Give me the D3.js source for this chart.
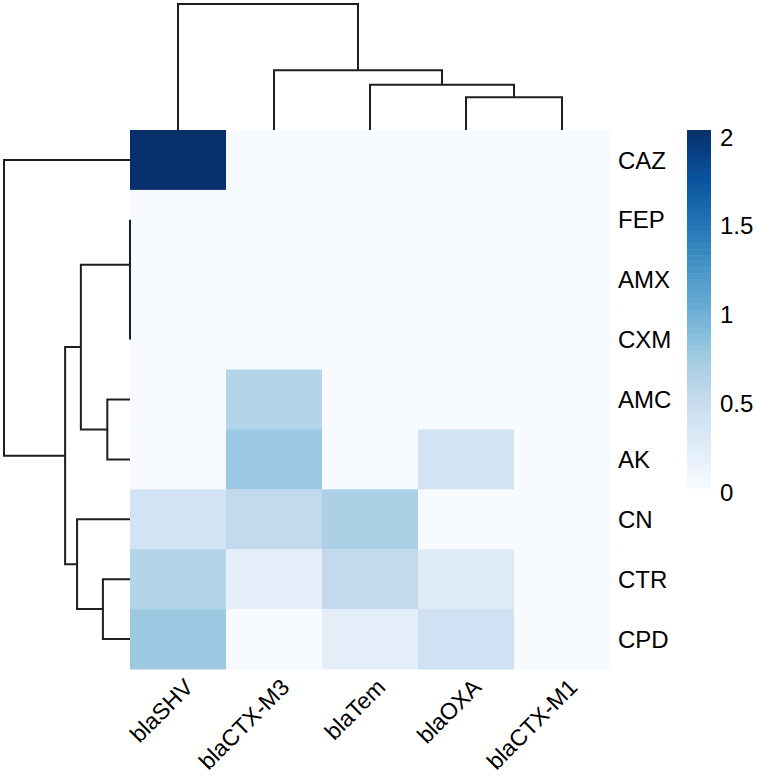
<!DOCTYPE html>
<html>
<head>
<meta charset="utf-8">
<script src="https://cdn.jsdelivr.net/npm/d3@7"></script>
<style>
  html, body { margin: 0; padding: 0; background: #fff; }
  text { font-family: "Liberation Sans", Arial, sans-serif; fill: #000; }
</style>
</head>
<body>
<svg id="chart" width="757" height="778"></svg>
<script>
// Genes (columns) and antibiotics (rows), in the dendrogram order
const colNames = ['blaSHV', 'blaCTX-M3', 'blaTem', 'blaOXA', 'blaCTX-M1'];
const rowNames = ['CAZ', 'FEP', 'AMX', 'CXM', 'AMC', 'AK', 'CN', 'CTR', 'CPD'];

// Cell values, one row per antibiotic
const cellValues = [
  [2.0, 0, 0, 0, 0],
  [0, 0, 0, 0, 0],
  [0, 0, 0, 0, 0],
  [0, 0, 0, 0, 0],
  [0, 0.61, 0, 0, 0],
  [0, 0.76, 0, 0.37, 0],
  [0.37, 0.52, 0.66, 0, 0],
  [0.61, 0.18, 0.52, 0.25, 0],
  [0.76, 0, 0.2, 0.41, 0]
];

// hclust-style merges: [left, right, height]; a number refers to an earlier merge
const rowMerges = [
  ['AMX', 'CXM', 0],
  ['FEP', 0, 0],
  ['AMC', 'AK', 0.36],
  [1, 2, 0.78],
  ['CTR', 'CPD', 0.43],
  ['CN', 4, 0.84],
  [3, 5, 1.03],
  ['CAZ', 6, 2.0]
];
const colMerges = [
  ['blaOXA', 'blaCTX-M1', 0.52],
  ['blaTem', 0, 0.72],
  ['blaCTX-M3', 1, 0.95],
  ['blaSHV', 2, 2.0]
];

const legendTicks = [0, 0.5, 1, 1.5, 2];
const blues = d3.schemeBlues[9];

const svg = d3.select('#chart');

// Heatmap body
const heat = { left: 130, right: 610, top: 130, bottom: 669 };

const x = d3.scaleBand().domain(colNames).range([heat.left, heat.right]);
const y = d3.scaleBand().domain(rowNames).range([heat.top, heat.bottom]);

const color = d3
  .scaleLinear()
  .domain(blues.map((_, i) => (i * 2) / (blues.length - 1)))
  .range(blues)
  .clamp(true);

const cells = [];
rowNames.forEach((r, i) => {
  colNames.forEach((c, j) => {
    cells.push({ row: r, col: c, value: cellValues[i][j] });
  });
});

svg
  .append('g')
  .attr('class', 'cells')
  .selectAll('rect')
  .data(cells)
  .enter()
  .append('rect')
  .attr('x', (d) => x(d.col))
  .attr('y', (d) => y(d.row))
  .attr('width', x.bandwidth() + 0.5)
  .attr('height', y.bandwidth() + 0.5)
  .attr('fill', (d) => color(d.value));

// Dendrograms
function layoutMerges(merges, leafPos) {
  const nodes = [];
  const get = (ref) => (typeof ref === 'number' ? nodes[ref] : { pos: leafPos(ref), h: 0 });
  merges.forEach(([a, b, h]) => {
    const na = get(a);
    const nb = get(b);
    nodes.push({ a: na, b: nb, h, pos: (na.pos + nb.pos) / 2 });
  });
  return nodes;
}

const maxColH = d3.max(colMerges, (d) => d[2]);
const colH = d3.scaleLinear().domain([0, maxColH]).range([heat.top, 4]);
const colNodes = layoutMerges(colMerges, (name) => x(name) + x.bandwidth() / 2);

svg
  .append('g')
  .attr('class', 'col-dendro')
  .selectAll('path')
  .data(colNodes)
  .enter()
  .append('path')
  .attr('fill', 'none')
  .attr('stroke', '#1e1e1e')
  .attr('stroke-width', 2)
  .attr('d', (n) =>
    `M${n.a.pos},${colH(n.a.h)}V${colH(n.h)}H${n.b.pos}V${colH(n.b.h)}`);

const maxRowH = d3.max(rowMerges, (d) => d[2]);
const rowH = d3.scaleLinear().domain([0, maxRowH]).range([heat.left, 4]);
const rowNodes = layoutMerges(rowMerges, (name) => y(name) + y.bandwidth() / 2);

svg
  .append('g')
  .attr('class', 'row-dendro')
  .selectAll('path')
  .data(rowNodes)
  .enter()
  .append('path')
  .attr('fill', 'none')
  .attr('stroke', '#1e1e1e')
  .attr('stroke-width', 2)
  .attr('d', (n) =>
    `M${rowH(n.a.h)},${n.a.pos}H${rowH(n.h)}V${n.b.pos}H${rowH(n.b.h)}`);

// Row labels
svg
  .append('g')
  .attr('class', 'row-labels')
  .selectAll('text')
  .data(rowNames)
  .enter()
  .append('text')
  .attr('x', heat.right + 8)
  .attr('y', (d) => y(d) + y.bandwidth() / 2)
  .attr('dy', '0.36em')
  .attr('font-size', 24)
  .text((d) => d);

// Column labels, rotated 45 degrees
svg
  .append('g')
  .attr('class', 'col-labels')
  .selectAll('text')
  .data(colNames)
  .enter()
  .append('text')
  .attr('transform', (d) => `translate(${x(d) + x.bandwidth() / 2 + 5},${heat.bottom + 8}) rotate(-45)`)
  .attr('text-anchor', 'end')
  .attr('dy', '0.72em')
  .attr('font-size', 23)
  .text((d) => d);

// Colour legend
const legend = { x: 687, width: 24, top: 130, bottom: 488 };
const legendBar = d3.scaleLinear().domain([0, 2]).range([legend.bottom, legend.top]);
const legendLabel = d3.scaleLinear().domain([0, 2]).range([492, 137]);

const bands = d3.range(0, 2, 2 / 60);
svg
  .append('g')
  .attr('class', 'legend-bar')
  .selectAll('rect')
  .data(bands)
  .enter()
  .append('rect')
  .attr('x', legend.x)
  .attr('y', (d) => legendBar(d + 2 / 60))
  .attr('width', legend.width)
  .attr('height', (d) => legendBar(d) - legendBar(d + 2 / 60) + 0.5)
  .attr('fill', (d) => color(d + 1 / 60));

svg
  .append('g')
  .attr('class', 'legend-labels')
  .selectAll('text')
  .data(legendTicks)
  .enter()
  .append('text')
  .attr('x', legend.x + legend.width + 9)
  .attr('y', (d) => legendLabel(d))
  .attr('dy', '0.36em')
  .attr('font-size', 24)
  .text((d) => d);
</script>
</body>
</html>
